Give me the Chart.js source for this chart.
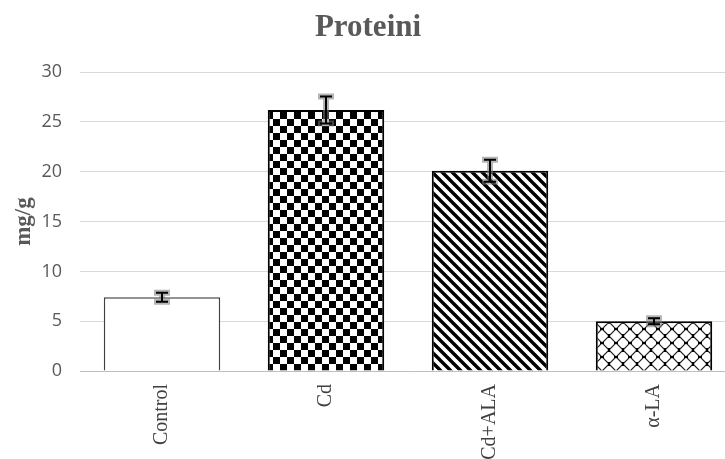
<!DOCTYPE html>
<html>
<head>
<meta charset="utf-8">
<script src="https://cdn.jsdelivr.net/npm/chart.js@4.4.0/dist/chart.umd.min.js"></script>
<style>
  html, body { margin: 0; padding: 0; background: #fff; }
  #wrap { width: 725px; height: 459px; overflow: hidden; }
</style>
</head>
<body>
<div id="wrap"><canvas id="chart" width="736" height="459"></canvas></div>
<script>
const categories = ['Control', 'Cd', 'Cd+ALA', 'α-LA'];
const values = [7.4, 26.2, 20.1, 5.0];
const errors = [0.45, 1.35, 1.1, 0.3];
const yTicks = [0, 5, 10, 15, 20, 25, 30];

function makePattern(kind) {
    const c = document.createElement('canvas');
    const ctx = c.getContext('2d');
    if (kind === 'check') {
        c.width = 14; c.height = 14;
        ctx.fillStyle = '#fff'; ctx.fillRect(0, 0, 14, 14);
        ctx.fillStyle = '#000';
        ctx.fillRect(0, 0, 7, 7);
        ctx.fillRect(7, 7, 7, 7);
    } else if (kind === 'diag') {
        c.width = 10; c.height = 10;
        ctx.fillStyle = '#fff'; ctx.fillRect(0, 0, 10, 10);
        ctx.strokeStyle = '#000'; ctx.lineWidth = 3.4;
        ctx.beginPath();
        ctx.moveTo(-5, -5); ctx.lineTo(15, 15);
        ctx.moveTo(-5, 5); ctx.lineTo(5, 15);
        ctx.moveTo(5, -5); ctx.lineTo(15, 5);
        ctx.stroke();
    } else {
        const s = 14, h = 7;
        c.width = s; c.height = s;
        ctx.fillStyle = '#fff'; ctx.fillRect(0, 0, s, s);
        ctx.strokeStyle = '#222'; ctx.lineWidth = 1.2;
        ctx.beginPath();
        ctx.moveTo(0, h); ctx.lineTo(h, 0);
        ctx.moveTo(h, s); ctx.lineTo(s, h);
        ctx.moveTo(0, h); ctx.lineTo(h, s);
        ctx.moveTo(h, 0); ctx.lineTo(s, h);
        ctx.stroke();
        ctx.fillStyle = '#000';
        ctx.fillRect(0, h - 1, 2, 2);
        ctx.fillRect(s - 2, h - 1, 2, 2);
        ctx.fillRect(h - 1, 0, 2, 2);
        ctx.fillRect(h - 1, s - 2, 2, 2);
    }
    return document.getElementById('chart').getContext('2d').createPattern(c, 'repeat');
}

const errorBars = {
    id: 'errorBars',
    afterDatasetsDraw(chart) {
        const ctx = chart.ctx;
        const meta = chart.getDatasetMeta(0);
        const y = chart.scales.y;
        ctx.save();
        meta.data.forEach(function (bar, i) {
            const x = bar.x;
            const top = y.getPixelForValue(values[i] + errors[i]);
            const bot = y.getPixelForValue(values[i] - errors[i]);
            // grey halo
            ctx.strokeStyle = 'rgba(120,120,120,0.55)';
            ctx.lineWidth = 6;
            ctx.beginPath();
            ctx.moveTo(x - 8, top); ctx.lineTo(x + 8, top);
            ctx.moveTo(x, top); ctx.lineTo(x, bot);
            ctx.moveTo(x - 8, bot); ctx.lineTo(x + 8, bot);
            ctx.stroke();
            ctx.strokeStyle = '#000';
            ctx.lineWidth = 2;
            ctx.beginPath();
            ctx.moveTo(x - 6, top); ctx.lineTo(x + 6, top);
            ctx.moveTo(x, top); ctx.lineTo(x, bot);
            ctx.moveTo(x - 6, bot); ctx.lineTo(x + 6, bot);
            ctx.stroke();
        });
        ctx.restore();
    }
};

new Chart(document.getElementById('chart'), {
    type: 'bar',
    data: {
        labels: categories,
        datasets: [{
            label: 'Proteini',
            data: values,
            backgroundColor: ['#fff', makePattern('check'), makePattern('diag'), makePattern('lattice')],
            borderColor: ['#404040', '#000', '#000', '#000'],
            borderWidth: [1.5, 2, 2, 2],
            categoryPercentage: 1,
            barPercentage: 0.71
        }]
    },
    options: {
        responsive: false,
        animation: false,
        layout: { padding: 0 },
        plugins: {
            legend: { display: false },
            tooltip: { enabled: false },
            title: {
                display: true,
                text: 'Proteini',
                color: '#595959',
                font: { family: 'Liberation Serif', size: 31, weight: 'bold' },
                padding: { top: 9, bottom: 26 }
            }
        },
        scales: {
            x: {
                afterFit(axis) { axis.height = 88; },
                grid: { display: false },
                border: { color: '#bfbfbf', width: 1 },
                ticks: {
                    color: '#404040',
                    minRotation: 90,
                    maxRotation: 90,
                    padding: 5,
                    font: { family: 'Liberation Serif', size: 20 }
                }
            },
            y: {
                min: 0,
                max: 30,
                afterFit(axis) { axis.width = 80; },
                afterBuildTicks(axis) { axis.ticks = yTicks.map(v => ({ value: v })); },
                grid: { color: '#d9d9d9', drawTicks: false },
                border: { display: false },
                ticks: {
                    color: '#595959',
                    padding: 18,
                    font: { family: 'Open Sans', size: 18 }
                },
                title: {
                    display: true,
                    text: 'mg/g',
                    color: '#595959',
                    font: { family: 'Liberation Serif', size: 23, weight: 'bold' },
                    padding: { top: 10, bottom: 0 }
                }
            }
        }
    },
    plugins: [errorBars]
});
</script>
</body>
</html>
